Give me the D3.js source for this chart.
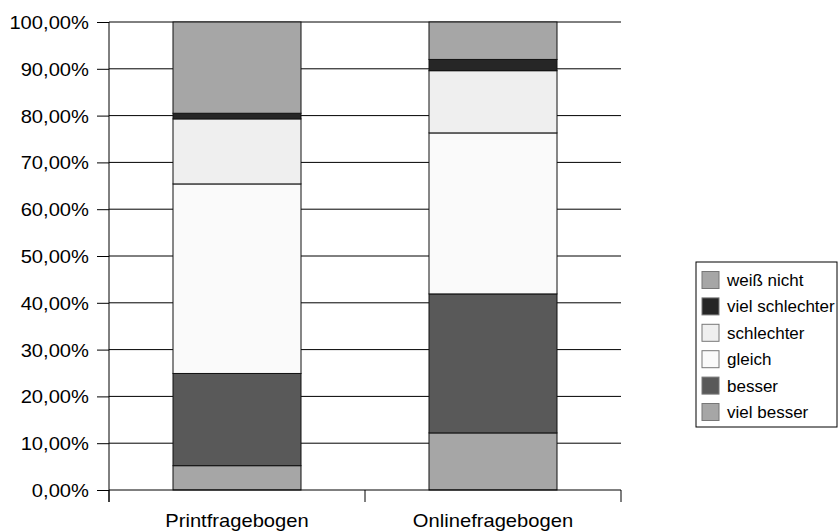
<!DOCTYPE html>
<html>
<head>
<meta charset="utf-8">
<script src="https://cdn.jsdelivr.net/npm/d3@7/dist/d3.min.js"></script>
<style>
  html, body { margin: 0; padding: 0; background: #fff; }
  svg { display: block; }
  text { font-family: "Liberation Sans", Arial, sans-serif; fill: #000; }
</style>
</head>
<body>
<svg id="chart" width="839" height="531"></svg>
<script>
const categories = ["Printfragebogen", "Onlinefragebogen"];
const seriesNames = ["viel besser", "besser", "gleich", "schlechter", "viel schlechter", "weiß nicht"];
const vielBesser     = [5.2, 12.2];
const besser         = [19.7, 29.7];
const gleich         = [40.5, 34.4];
const schlechter     = [13.9, 13.3];
const vielSchlechter = [1.2, 2.4];
const weissNicht     = [19.5, 8.0];
const yTickValues = [0, 10, 20, 30, 40, 50, 60, 70, 80, 90, 100];
const yTickLabels = ["0,00%", "10,00%", "20,00%", "30,00%", "40,00%", "50,00%", "60,00%", "70,00%", "80,00%", "90,00%", "100,00%"];
const colors = ["#a6a6a6", "#595959", "#fafafa", "#efefef", "#262626", "#a6a6a6"];

const seriesValues = [vielBesser, besser, gleich, schlechter, vielSchlechter, weissNicht];
const rows = categories.map((c, i) => {
  const r = { category: c };
  seriesNames.forEach((s, j) => { r[s] = seriesValues[j][i]; });
  return r;
});

const svg = d3.select("#chart");
const plotLeft = 109, plotRight = 621, plotTop = 22, plotBottom = 490;
const x = d3.scaleBand().domain(categories).range([plotLeft, plotRight]).paddingInner(0.5).paddingOuter(0.25);
const y = d3.scaleLinear().domain([0, 100]).range([plotBottom, plotTop]);
const color = d3.scaleOrdinal().domain(seriesNames).range(colors);
const axisStretch = 1.12;

// gridlines
svg.append("g").selectAll("line")
  .data(yTickValues.filter(v => v > 0))
  .join("line")
  .attr("x1", plotLeft).attr("x2", plotRight)
  .attr("y1", d => y(d)).attr("y2", d => y(d))
  .attr("stroke", "#000").attr("stroke-width", 1);

// bars
const stacked = d3.stack().keys(seriesNames)(rows);
svg.append("g").selectAll("g")
  .data(stacked)
  .join("g")
  .attr("fill", d => color(d.key))
  .selectAll("rect")
  .data(d => d)
  .join("rect")
  .attr("x", d => x(d.data.category))
  .attr("width", x.bandwidth())
  .attr("y", d => y(d[1]))
  .attr("height", d => y(d[0]) - y(d[1]))
  .attr("stroke", "#111").attr("stroke-width", 1);

// y axis
const yAxis = d3.axisLeft(y).tickValues(yTickValues)
  .tickFormat((d, i) => yTickLabels[i]).tickSize(12).tickSizeOuter(0).tickPadding(8);
const yg = svg.append("g").attr("transform", `translate(${plotLeft},0)`).call(yAxis);
yg.select(".domain").remove();
yg.selectAll(".tick line").attr("stroke", "#000");
yg.selectAll(".tick text")
  .attr("font-size", 18)
  .attr("font-family", "Liberation Sans, Arial, sans-serif")
  .attr("dy", null)
  .attr("x", null)
  .attr("transform", `translate(-20,6.5) scale(${axisStretch},1)`)
  .attr("text-anchor", "end");
svg.append("line").attr("x1", plotLeft).attr("x2", plotLeft)
  .attr("y1", y(100)).attr("y2", y(0) + 12).attr("stroke", "#000");

// x axis
svg.append("line").attr("x1", plotLeft).attr("x2", plotRight)
  .attr("y1", y(0)).attr("y2", y(0)).attr("stroke", "#000");
const step = x.step();
const bounds = categories.map(c => x(c) - step * x.paddingOuter()).concat([plotRight]);
svg.append("g").selectAll("line").data(bounds).join("line")
  .attr("x1", d => d).attr("x2", d => d)
  .attr("y1", y(0)).attr("y2", y(0) + 12).attr("stroke", "#000");
svg.append("g").selectAll("text").data(categories).join("text")
  .attr("transform", d => `translate(${x(d) + x.bandwidth() / 2},527) scale(${axisStretch},1)`)
  .attr("text-anchor", "middle")
  .attr("font-size", 18)
  .text(d => d);

// legend
const lg = svg.append("g");
lg.append("rect").attr("x", 696).attr("y", 262).attr("width", 141).attr("height", 165)
  .attr("fill", "#fff").attr("stroke", "#000").attr("stroke-width", 1);
const legendOrder = seriesNames.slice().reverse();
const ly = d3.scalePoint().domain(legendOrder).range([280, 412]);
const items = lg.selectAll("g.item").data(legendOrder).join("g").attr("class", "item");
items.append("rect")
  .attr("x", 702).attr("y", d => ly(d) - 8.5).attr("width", 17).attr("height", 17)
  .attr("fill", d => color(d)).attr("stroke", "#777").attr("stroke-width", 1);
items.append("text")
  .attr("x", 727).attr("y", d => ly(d) + 6)
  .attr("font-size", 17)
  .text(d => d);
</script>
</body>
</html>
